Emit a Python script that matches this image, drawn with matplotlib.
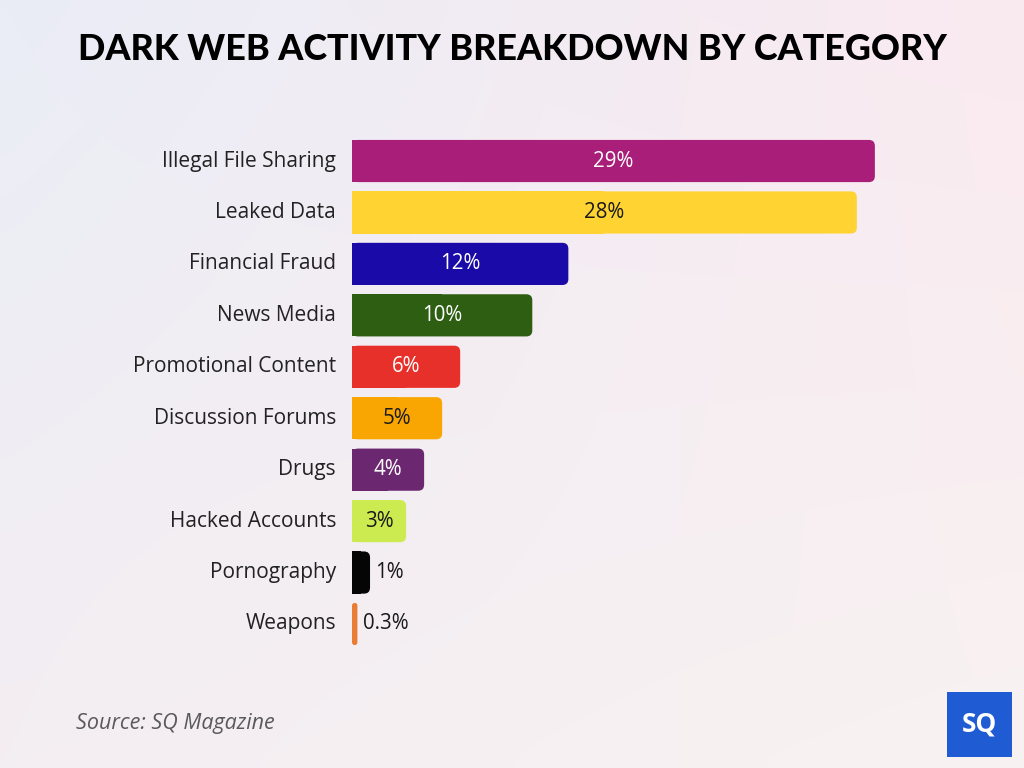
"""Dark web activity breakdown by category - horizontal bar chart."""

import numpy as np
import matplotlib.pyplot as plt
from matplotlib.patches import FancyBboxPatch, Rectangle

# --- Data ---
categories = ['Illegal File Sharing', 'Leaked Data', 'Financial Fraud', 'News Media',
              'Promotional Content', 'Discussion Forums', 'Drugs', 'Hacked Accounts',
              'Pornography', 'Weapons']
values = [29, 28, 12, 10, 6, 5, 4, 3, 1, 0.3]
value_labels = ['29%', '28%', '12%', '10%', '6%', '5%', '4%', '3%', '1%', '0.3%']
bar_colors = ['#A81E78', '#FFD332', '#1A0AA8', '#2E5E12', '#E8302A',
              '#F9A602', '#6B2870', '#CCEB50', '#050505', '#E97D36']
text_colors = ['white', '#1a1a1a', 'white', 'white', 'white',
               '#1a1a1a', 'white', '#1a1a1a', '#1a1a1a', '#1a1a1a']

W, H = 1024, 768
fig = plt.figure(figsize=(W / 100, H / 100), dpi=100)

# --- Background gradient ---
bg = fig.add_axes([0, 0, 1, 1], zorder=-10)
tl = np.array([234, 237, 246]) / 255
tr = np.array([250, 234, 240]) / 255
bl = np.array([244, 238, 242]) / 255
br = np.array([248, 242, 242]) / 255
u = np.linspace(0, 1, 64)[None, :, None]
v = np.linspace(0, 1, 48)[:, None, None]
grad = (1 - v) * ((1 - u) * tl + u * tr) + v * ((1 - u) * bl + u * br)
bg.imshow(grad, aspect='auto', extent=[0, 1, 0, 1], interpolation='bicubic')
bg.axis('off')

# --- Bar axes ---
px_per_unit = 18.03
left_px, right_px = 352, 1000
top_px, bottom_px = 135.3, 649.7
ax = fig.add_axes([left_px / W, 1 - bottom_px / H,
                   (right_px - left_px) / W, (bottom_px - top_px) / H])
ax.set_xlim(0, (right_px - left_px) / px_per_unit)
ax.set_ylim(len(categories) - 0.5, -0.5)
ax.axis('off')

bar_h = 0.82
r_x = 6 / px_per_unit           # corner radius in data x-units
r_y = 6 / 51.4                   # corner radius in data y-units
for i, (val, col) in enumerate(zip(values, bar_colors)):
    y0 = i - bar_h / 2
    rs = min(r_x, val / 2)
    ax.add_patch(FancyBboxPatch((0, y0), val, bar_h,
                                boxstyle=f'round,pad=0,rounding_size={rs}',
                                mutation_aspect=r_y / r_x,
                                fc=col, ec='none', lw=0))
    if val > 2 * r_x:
        ax.add_patch(Rectangle((0, y0), val / 2, bar_h, fc=col, ec='none', lw=0))

    if val >= 3:
        ax.text(val / 2, i, value_labels[i], ha='center', va='center',
                fontsize=14.8, color=text_colors[i], family='Open Sans')
    else:
        ax.text(val + 0.3, i, value_labels[i], ha='left', va='center',
                fontsize=14.8, color=text_colors[i], family='Open Sans')

    ax.text(-16 / px_per_unit, i, categories[i], ha='right', va='center',
            fontsize=15, color='#222222', family='Open Sans')

# --- Title, source, logo ---
fig.text(0.5, 1 - 50 / H, 'DARK WEB ACTIVITY BREAKDOWN BY CATEGORY',
         ha='center', va='center', fontsize=25.8, fontweight='black',
         family='Lato', color='black')
fig.text(76 / W, 1 - 724 / H, 'Source: SQ Magazine', ha='left', va='center',
         fontsize=15.5, style='italic', color='#5a5a5a', family='Open Sans')

logo = fig.add_axes([947 / W, 1 - 757 / H, 65 / W, 65 / H])
logo.add_patch(Rectangle((0, 0), 1, 1, fc='#1F5BD2', ec='none'))
logo.text(0.5, 0.5, 'SQ', ha='center', va='center', fontsize=19,
          fontweight='bold', color='white', family='Open Sans')
logo.set_xlim(0, 1)
logo.set_ylim(0, 1)
logo.axis('off')

fig.savefig('out.png', dpi=100)
